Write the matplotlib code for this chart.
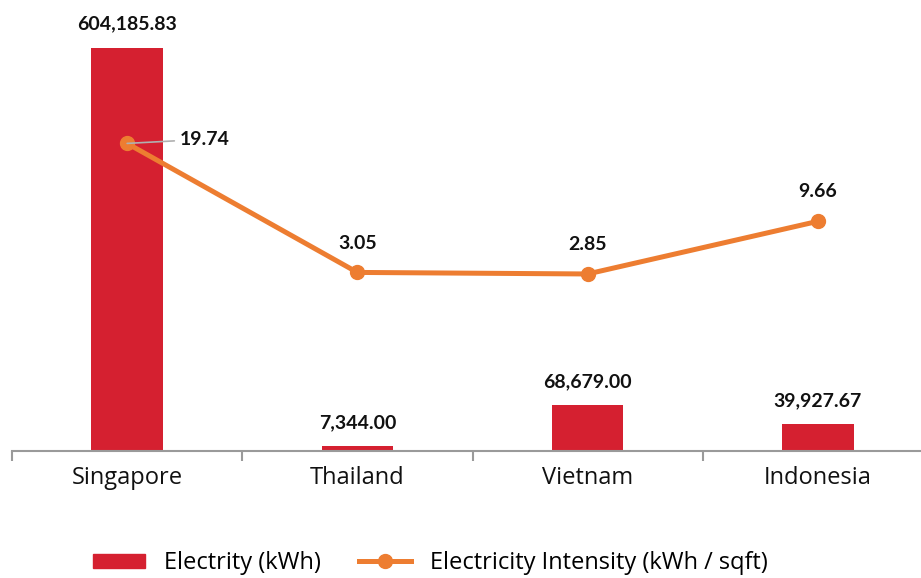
import matplotlib.pyplot as plt
from matplotlib.lines import Line2D
from matplotlib.patches import Patch

# --- datos ---
paises = ["Singapore", "Thailand", "Vietnam", "Indonesia"]
electricidad = [604185.83, 7344.00, 68679.00, 39927.67]
intensidad = [19.74, 3.05, 2.85, 9.66]

ROJO = "#D52030"
NARANJA = "#ED7D31"
GRIS = "#9A9A9A"

plt.rcParams['font.family'] = ['Lato', 'DejaVu Sans']
FUENTE_TEXTO = ['Open Sans', 'DejaVu Sans']

fig = plt.figure(figsize=(9.21, 5.78), dpi=100)
ax = fig.add_axes([12 / 921, 1 - 451 / 578, 921 / 921, 451 / 578])
ax2 = ax.twinx()

x = list(range(len(paises)))
ax.bar(x, electricidad, width=0.31, color=ROJO, zorder=2)
ax.set_xlim(-0.5, len(paises) - 0.5)
ax.set_ylim(0, 604185.83 * 451 / 403)

for xi, v in zip(x, electricidad):
    ax.annotate(f"{v:,.2f}", (xi, v), xytext=(0, 11), textcoords="offset points",
                ha="center", va="bottom", fontsize=14, fontweight="bold", color="#111111")

ax2.plot(x, intensidad, color=NARANJA, lw=3.6, marker="o", markersize=10, zorder=3)
ax2.set_ylim(-(451 - 296) / 7.73, 296 / 7.73)

for xi, v in zip(x, intensidad):
    if xi == 0:
        ax2.annotate(f"{v:.2f}", (xi, v), xytext=(38, 3), textcoords="offset points",
                     ha="left", va="center", fontsize=14, fontweight="bold", color="#111111",
                     arrowprops=dict(arrowstyle="-", color="#B0B0B0", lw=1.2,
                                     shrinkA=2, shrinkB=0))
    else:
        ax2.annotate(f"{v:.2f}", (xi, v), xytext=(0, 15), textcoords="offset points",
                     ha="center", va="bottom", fontsize=14, fontweight="bold", color="#111111")

# ejes
for a in (ax, ax2):
    for lado in ("top", "right", "left"):
        a.spines[lado].set_visible(False)
    a.set_yticks([])
ax2.spines["bottom"].set_visible(False)
ax.spines["bottom"].set_color(GRIS)
ax.spines["bottom"].set_linewidth(1.5)

ax.set_xticks(x)
ax.set_xticklabels(paises, fontsize=17, color="#111111", family=FUENTE_TEXTO)
ax.tick_params(axis="x", length=0, pad=11)
ax.set_xticks([i - 0.5 for i in range(len(paises) + 1)], minor=True)
ax.tick_params(axis="x", which="minor", length=7, width=1.5, color=GRIS)

handles = [Patch(color=ROJO),
           Line2D([0], [0], color=NARANJA, lw=3.6, marker="o", markersize=10)]
fig.legend(handles, ["Electrity (kWh)", "Electricity Intensity (kWh / sqft)"],
           loc="center left", bbox_to_anchor=(72 / 921, 1 - 563 / 578), ncol=2,
           frameon=False, prop={"family": FUENTE_TEXTO, "size": 17},
           handlelength=2.2, handleheight=0.55, handletextpad=0.8, columnspacing=1.6)

fig.savefig("out.png", dpi=100)
